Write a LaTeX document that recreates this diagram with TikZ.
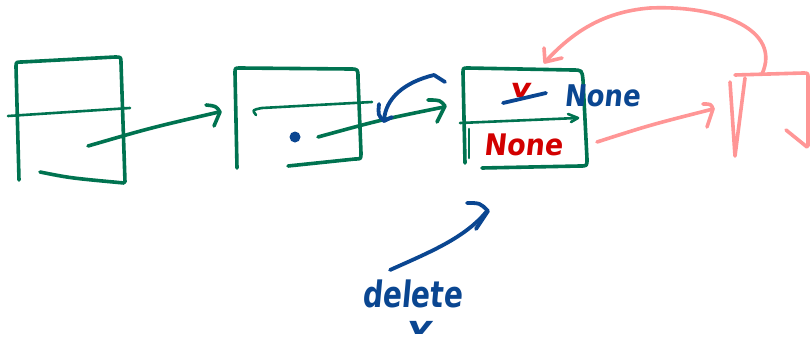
\documentclass[tikz,border=0pt]{standalone}
\usepackage{fontspec}
\newfontfamily\handfont[FakeSlant=0.12, BoldFeatures={FakeSlant=0.12}]{DejaVu Sans}
\usetikzlibrary{arrows.meta}
\definecolor{gink}{RGB}{0,115,80}
\definecolor{bink}{RGB}{10,70,145}
\definecolor{rink}{RGB}{210,0,0}
\definecolor{pink}{RGB}{255,150,150}
\newcommand{\handtxt}[4]{\scalebox{#2}[#3]{\fontsize{#1}{#1}\selectfont\handfont\bfseries #4}}
\begin{document}
\begin{tikzpicture}[x=1pt,y=-1pt, line cap=round, line join=round,
  gs/.style={draw=gink, line width=3.6pt},
  gthin/.style={draw=gink, line width=2.6pt},
  ps/.style={draw=pink, line width=3.6pt},
  bs/.style={draw=bink, line width=3.8pt},
  hand/.style={inner sep=0pt}]
\fill[white] (0,0) rectangle (811,364);
\useasboundingbox (0,0) rectangle (811,364);
% ---- box 1
\draw[gs] (19,180) -- (16,67) .. controls (16,62) .. (22,62) -- (115,57) .. controls (121,57) .. (121,63) -- (125,182);
\draw[gs] (40,172) .. controls (70,178) .. (124,183);
\draw[gthin] (8,116) -- (130,108);
\coordinate (p1s) at (88,146);
\coordinate (p1e) at (219,112);
\draw[gs] (p1s) .. controls (150,128) .. (p1e);
\draw[gs] (206,105) .. controls (216,106) .. (220,112) -- (214,126);
% ---- box 2
\draw[gs] (237,168) -- (235,73) .. controls (235,68) .. (240,68) -- (350,69) .. controls (358,69) .. (358,78) -- (361,153) .. controls (361,159) .. (355,159) -- (288,166);
\draw[gthin] (256,115) .. controls (252,110) .. (262,108) -- (372,102);
\fill[bink] (295,137) circle (5.5);
\coordinate (p2s) at (318,137);
\coordinate (p2e) at (444,107);
\draw[gs] (p2s) .. controls (380,120) .. (p2e);
\draw[gs] (428,100) .. controls (440,100) .. (445,106) -- (437,122);
% blue curl
\coordinate (cs) at (445,82);
\coordinate (ce) at (384,121);
\draw[bs] (cs) -- (434,75) .. controls (405,82) and (385,98) .. (ce);
\draw[bs] (379,104) .. controls (378,115) .. (384,121) -- (392,117);
% ---- box 3
\draw[gs] (465,163) -- (463,73) .. controls (463,68) .. (468,68) -- (572,70) .. controls (582,70) .. (583,80) -- (587,159) .. controls (587,166) .. (580,166) -- (482,168);
\draw[gthin] (469,129) -- (469,158);
\draw[gthin] (460,123) -- (577,118);
\draw[gthin] (568,114) -- (578,118) -- (571,122);
% texts in box 3
\node[hand, text=rink] (vold) at (520,90) {\handtxt{26}{1.2}{1}{v}};
\draw[bs] (503,103) -- (546,93);
\node[hand, text=bink] (nb) at (602,96) {\handtxt{26}{1}{1.15}{None}};
\node[hand, text=rink] (nr) at (523,145) {\handtxt{27}{1}{1.1}{None}};
% ---- pink part
\coordinate (pks) at (597,142);
\coordinate (pke) at (713,109);
\draw[ps] (pks) .. controls (650,125) .. (pke);
\draw[ps] (703,104) .. controls (711,104) .. (713,109) -- (707,127);
\draw[ps] (735,75) -- (803,73) .. controls (808,73) .. (808,78) -- (808,146);
\draw[ps] (786,130) -- (807,147);
\draw[ps] (730,82) -- (735,156) -- (745,78);
\coordinate (ls) at (762,74);
\coordinate (le) at (545,62);
\draw[ps] (ls) .. controls (782,30) and (720,5) .. (650,8) .. controls (600,12) and (570,35) .. (le);
\draw[ps] (544,48) -- (545,62) -- (562,58);
% ---- delete
\coordinate (ds) at (390,270);
\coordinate (de) at (487,211);
\draw[bs] (ds) .. controls (430,252) and (465,238) .. (de);
\draw[bs] (467,203) .. controls (480,203) .. (488,211) -- (476,229);
\node[hand, text=bink] (del) at (412,294) {\handtxt{28}{1}{1.3}{delete}};
\node[hand, text=bink] (dv) at (419,328) {\handtxt{24}{1.6}{1}{v}};
\end{tikzpicture}
\end{document}
